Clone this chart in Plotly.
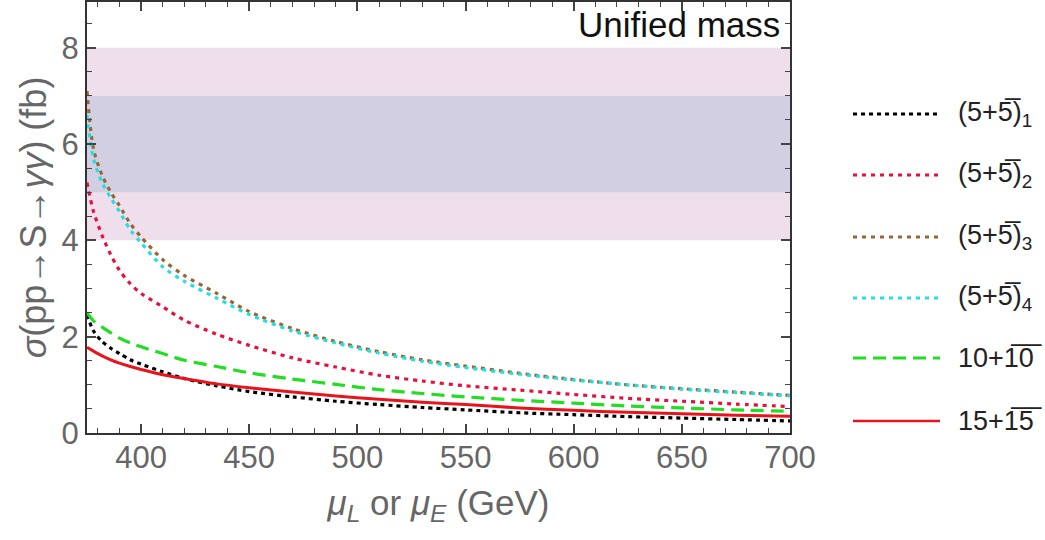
import plotly.graph_objects as go

# ---------------- data ----------------
mu = [375, 378, 382, 386, 390, 395, 400, 410, 420, 435, 450, 470, 490, 510,
      530, 550, 575, 600, 625, 650, 675, 700]

s55_1 = [2.45, 2.12, 1.90, 1.76, 1.65, 1.52, 1.43, 1.27, 1.13, 0.98, 0.86, 0.75,
         0.66, 0.59, 0.53, 0.48, 0.42, 0.38, 0.34, 0.31, 0.28, 0.25]
s55_2 = [5.20, 4.60, 4.10, 3.70, 3.38, 3.10, 2.90, 2.62, 2.34, 2.05, 1.82, 1.56,
         1.37, 1.20, 1.08, 0.98, 0.89, 0.80, 0.72, 0.66, 0.60, 0.55]
s55_3 = [7.10, 5.90, 5.35, 5.00, 4.72, 4.35, 4.07, 3.60, 3.27, 2.90, 2.52, 2.17,
         1.90, 1.69, 1.52, 1.39, 1.24, 1.11, 1.00, 0.92, 0.85, 0.78]
s55_4 = [6.60, 5.70, 5.20, 4.88, 4.60, 4.22, 3.95, 3.45, 3.15, 2.80, 2.46, 2.12,
         1.87, 1.66, 1.49, 1.36, 1.22, 1.10, 1.00, 0.91, 0.84, 0.77]
s1010 = [2.50, 2.33, 2.20, 2.08, 1.97, 1.87, 1.79, 1.65, 1.51, 1.38, 1.25, 1.12,
         1.01, 0.90, 0.82, 0.75, 0.68, 0.62, 0.56, 0.52, 0.48, 0.45]
s1515 = [1.78, 1.70, 1.60, 1.52, 1.45, 1.38, 1.32, 1.21, 1.13, 1.02, 0.94, 0.85,
         0.77, 0.70, 0.64, 0.59, 0.52, 0.47, 0.43, 0.40, 0.37, 0.35]

band_outer = [4, 8]
band_inner = [5, 7]

OL = "\u0305"
labels = [
    "(5+5" + OL + ")<sub>1</sub>",
    "(5+5" + OL + ")<sub>2</sub>",
    "(5+5" + OL + ")<sub>3</sub>",
    "(5+5" + OL + ")<sub>4</sub>",
    "10+1" + OL + "0" + OL,
    "15+1" + OL + "5" + OL,
]

# ---------------- styles ----------------
series = [s55_1, s55_2, s55_3, s55_4, s1010, s1515]
colors = ["#000000", "#e8103a", "#996633", "#22e0e0", "#22dd22", "#e8141c"]
dashes = ["4px,4px", "4px,5px", "4px,5px", "4px,5px", "13px,7px", "solid"]
widths = [3.2, 3.2, 3.2, 3.2, 3.2, 3.0]

W, H = 1045, 540
L, R, T, B = 87, 255, 2, 107
pw, ph = W - L - R, H - T - B

FONT = "Arial, Liberation Sans, sans-serif"
GREY = "#666666"

fig = go.Figure()

for i in range(len(series)):
    fig.add_trace(go.Scatter(
        x=mu, y=series[i], mode="lines", name=labels[i],
        line=dict(color=colors[i], width=widths[i], dash=dashes[i], shape="spline",
                  smoothing=0.8),
        showlegend=False, hoverinfo="skip"))

shapes = [
    dict(type="rect", xref="x domain", yref="y", x0=0, x1=1,
         y0=band_outer[0], y1=band_outer[1], fillcolor="#efdfec",
         line=dict(width=0), layer="below"),
    dict(type="rect", xref="x domain", yref="y", x0=0, x1=1,
         y0=band_inner[0], y1=band_inner[1], fillcolor="#d2cfe2",
         line=dict(width=0), layer="below"),
]

annotations = []

# manual legend (pixel positions -> paper coords)
rows_py = [114, 175, 237, 298, 358, 421]
lx0, lx1, tx = 853, 940, 956
for i, py in enumerate(rows_py):
    yp = (H - B - py) / ph
    shapes.append(dict(type="line", xref="paper", yref="paper",
                       x0=(lx0 - L) / pw, x1=(lx1 - L) / pw, y0=yp, y1=yp,
                       line=dict(color=colors[i], width=widths[i] - 0.4,
                                 dash=dashes[i])))
    annotations.append(dict(xref="paper", yref="paper", x=(tx - L) / pw, y=yp,
                            text=labels[i], showarrow=False, xanchor="left",
                            yanchor="middle",
                            font=dict(family=FONT, size=27, color="#222222")))

annotations.append(dict(xref="paper", yref="paper", x=0.988, y=0.997,
                        text="Unified mass", showarrow=False, xanchor="right",
                        yanchor="top",
                        font=dict(family=FONT, size=35, color="#111111")))

axis_common = dict(
    showline=True, linecolor="#333333", linewidth=2, mirror="ticks",
    ticks="inside", ticklen=9, tickwidth=1.5, tickcolor="#444444",
    showgrid=False, zeroline=False, automargin=False,
    tickfont=dict(family=FONT, size=31, color=GREY),
)

fig.update_layout(
    width=W, height=H,
    margin=dict(l=L, r=R, t=T, b=B, pad=0, autoexpand=False),
    paper_bgcolor="white", plot_bgcolor="white",
    shapes=shapes, annotations=annotations,
    xaxis=dict(range=[375, 700], tickvals=[400, 450, 500, 550, 600, 650, 700],
               minor=dict(dtick=10, ticks="inside", ticklen=5, tickcolor="#444444",
                          tickwidth=1.2, showgrid=False),
               title=dict(text="<i>μ<sub>L</sub></i> or <i>μ<sub>E</sub></i> (GeV)",
                          font=dict(family=FONT, size=35, color=GREY), standoff=16),
               ticklabelstandoff=-4,
               **axis_common),
    yaxis=dict(range=[0, 8.95], tickvals=[0, 2, 4, 6, 8],
               minor=dict(dtick=0.5, ticks="inside", ticklen=5, tickcolor="#444444",
                          tickwidth=1.2, showgrid=False),
               title=dict(text="<i>σ</i>(pp→S→<i>γγ</i>) (fb)",
                          font=dict(family=FONT, size=36, color=GREY), standoff=4),
               **axis_common),
    showlegend=False,
)

fig.write_html("out.html", config={"displayModeBar": False},
               post_script="document.body.style.margin='0px';")
